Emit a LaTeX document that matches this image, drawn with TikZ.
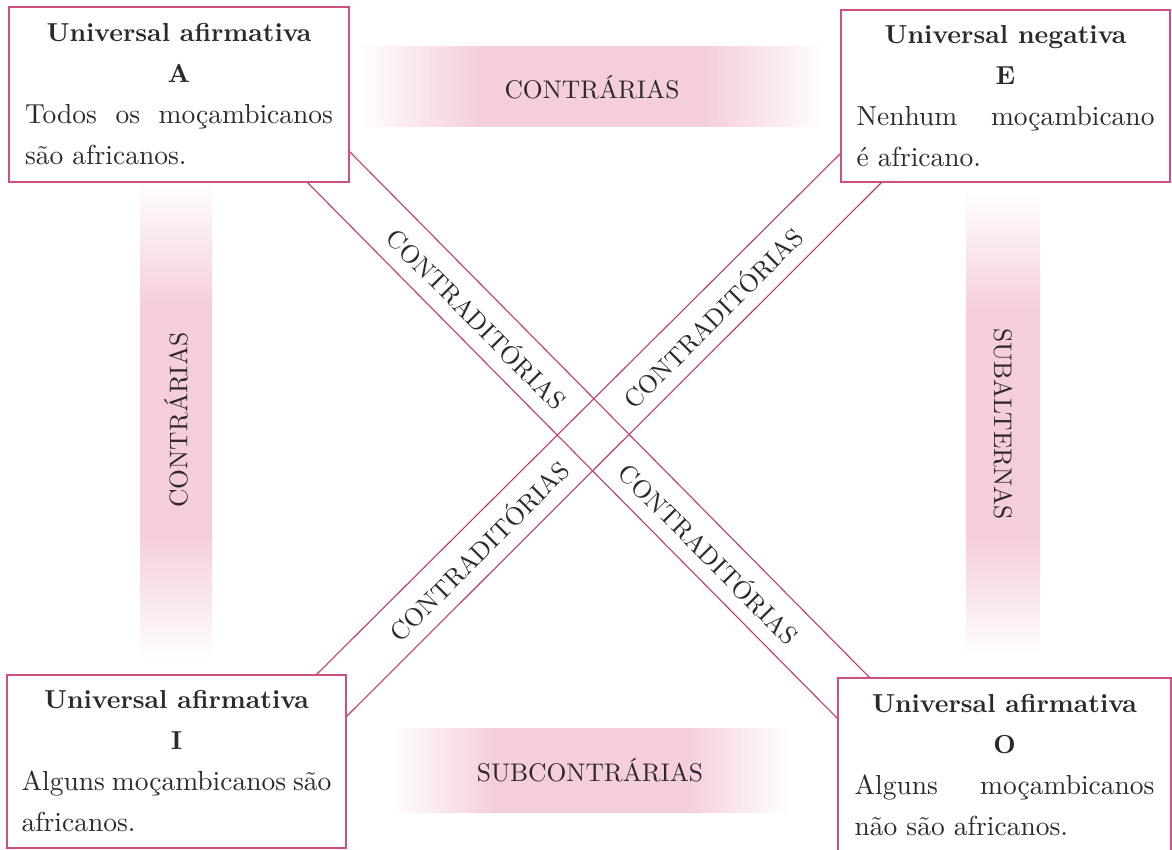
\documentclass[tikz,border=0pt]{standalone}
\usepackage{fontspec}
\setmainfont{lmroman10-regular}[Extension=.otf, BoldFont=lmroman10-bold]
\usetikzlibrary{calc}
\definecolor{bandpink}{RGB}{245,206,221}
\definecolor{boxline}{RGB}{205,80,130}
\definecolor{diagline}{RGB}{196,58,104}
\definecolor{ink}{RGB}{45,40,45}
\pgfdeclarehorizontalshading{bandshade}{100bp}{color(0bp)=(white); color(25bp)=(white); color(38bp)=(bandpink); color(62bp)=(bandpink); color(75bp)=(white); color(100bp)=(white)}
\newcommand{\jline}[2]{\makebox[#1][s]{#2}}
\newcommand{\lline}[2]{\makebox[#1][l]{#2}}
\newcommand{\ttl}[1]{{\fontsize{26}{41}\selectfont\bfseries #1}}
\begin{document}
\begin{tikzpicture}[x=1pt,y=-1pt,
  propbox/.style={draw=boxline, line width=1.4pt, fill=white, inner sep=0pt, align=center,
    text=ink, font=\fontsize{27.5}{41}\selectfont},
  band/.style={shading=bandshade, inner sep=0pt, text=ink, font=\fontsize{25.5}{30}\selectfont},
  diag/.style={draw=diagline, line width=1.1pt},
  difflabel/.style={text=ink, font=\fontsize{25.5}{30}\selectfont, inner sep=0pt}]
\useasboundingbox (0,0) rectangle (1172,850);
% shaded relation bands
\node[band, minimum width=470, minimum height=80] (topband) at (592,87) {CONTRÁRIAS};
\node[band, minimum width=400, minimum height=84] (botband) at (590,770) {SUBCONTRÁRIAS};
\node[band, shading angle=90, minimum width=72, minimum height=480] (leftband) at (176,420) {\rotatebox{90}{CONTRÁRIAS}};
\node[band, shading angle=90, minimum width=74, minimum height=470] (rightband) at (1003,424) {\rotatebox{-90}{SUBALTERNAS}};
% boxes
\node[propbox, minimum width=340, minimum height=175] (A) at (179,94.5)
  {\ttl{Universal afirmativa}\\ \ttl{A}\\ \jline{308pt}{Todos os moçambicanos}\\ \lline{308pt}{são africanos.}};
\node[propbox, minimum width=329, minimum height=172] (E) at (1005.5,96)
  {\ttl{Universal negativa}\\ \ttl{E}\\ \jline{298pt}{Nenhum moçambicano}\\ \lline{298pt}{é africano.}};
\node[propbox, minimum width=339, minimum height=173] (I) at (176.5,761.5)
  {\ttl{Universal afirmativa}\\ \ttl{I}\\ \jline{310pt}{Alguns moçambicanos são}\\ \lline{310pt}{africanos.}};
\node[propbox, minimum width=333, minimum height=174] (O) at (1004.5,765)
  {\ttl{Universal afirmativa}\\ \ttl{O}\\ \jline{300pt}{Alguns moçambicanos}\\ \lline{300pt}{não são africanos.}};
% contradictory bands
\draw[diag] ($(A.south east)+(0,-31)$) -- ($(O.north west)+(32,0)$);
\draw[diag] ($(A.south east)+(-42,0)$) -- ($(O.north west)+(0,41)$);
\draw[diag] ($(E.south west)+(0,-29)$) -- ($(I.north east)+(-30,0)$);
\draw[diag] ($(E.south west)+(41,0)$) -- ($(I.north east)+(0,42)$);
\node[difflabel, rotate=-45.3] (c1) at (478,318) {CONTRADITÓRIAS};
\node[difflabel, rotate=-45.3] (c2) at (710,553) {CONTRADITÓRIAS};
\node[difflabel, rotate=45.1] (c3) at (712,317) {CONTRADITÓRIAS};
\node[difflabel, rotate=45.1] (c4) at (478,550) {CONTRADITÓRIAS};
\end{tikzpicture}
\end{document}
